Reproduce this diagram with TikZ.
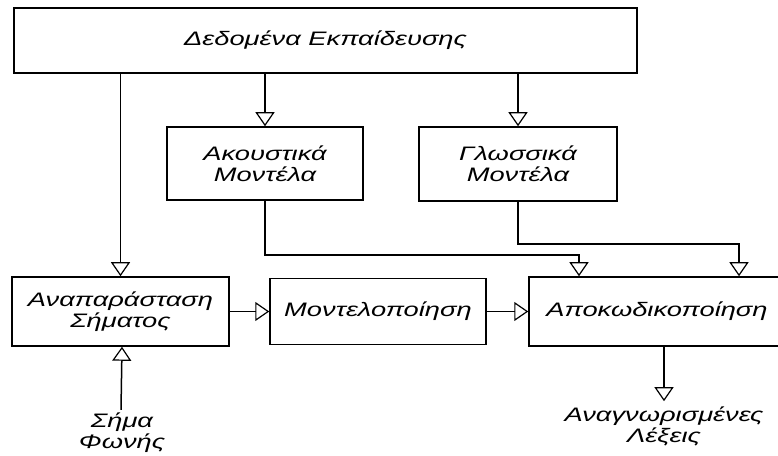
\documentclass[tikz,border=0pt]{standalone}
\usepackage{fontspec}
\setmainfont{Liberation Sans}[FakeStretch=1.4]
\usetikzlibrary{arrows.meta}
\tikzset{
  box/.style={draw,rectangle,line width=1.5bp,inner sep=0pt,align=center},
  lbl/.style={inner sep=0pt,align=center},
  arr/.style={line width=1.5bp,-{Triangle[open,width=19bp,length=14bp,line width=1.2bp]}},
}
\begin{document}
\begin{tikzpicture}[font=\fontsize{19.5bp}{21bp}\selectfont\itshape]
  \useasboundingbox (0bp,0bp) rectangle (778bp,456bp);
  \node (Train) at (325.5bp,415.5bp) [box,minimum width=623bp,minimum height=65bp] {Δεδομένα Εκπαίδευσης};
  \node (Acoustic) at (265bp,292.5bp) [box,minimum width=196bp,minimum height=73bp] {Ακουστικά\\Μοντέλα};
  \node (Lang) at (518bp,292bp) [box,minimum width=198bp,minimum height=74bp] {Γλωσσικά\\Μοντέλα};
  \node (Repr) at (120.5bp,144.5bp) [box,minimum width=217bp,minimum height=69bp] {Αναπαράσταση\\Σήματος};
  \node (Model) at (378bp,144.5bp) [box,minimum width=216bp,minimum height=66bp] {Μοντελοποίηση};
  \node (Decode) at (657bp,144.5bp) [box,minimum width=256bp,minimum height=69bp] {Αποκωδικοποίηση};
  \node (Speech) at (122bp,23bp) [lbl] {Σήμα\\Φωνής};
  \node (Words) at (664bp,30bp) [lbl] {Αναγνωρισμένες\\Λέξεις};
  \coordinate (abend) at (265bp,201bp);
  \coordinate (lbend) at (518bp,212bp);
  \draw [arr] (Train.south -| Repr.north) -- (Repr.north);
  \draw [arr] (Train.south -| Acoustic.north) -- (Acoustic.north);
  \draw [arr] (Train.south -| Lang.north) -- (Lang.north);
  \draw [arr] (Acoustic.south) -- (abend) -| ([xshift=-78bp]Decode.north);
  \draw [arr] (Lang.south) -- (lbend) -| ([xshift=82bp]Decode.north);
  \draw [arr] (Repr.east) -- (Model.west);
  \draw [arr] (Model.east) -- (Decode.west);
  \draw [arr] ([xshift=-1bp,yshift=3bp]Speech.north) -- (Speech.north |- Repr.south);
  \draw [arr] (Decode.south -| Words.north) -- ([yshift=5bp]Words.north);
\end{tikzpicture}
\end{document}
